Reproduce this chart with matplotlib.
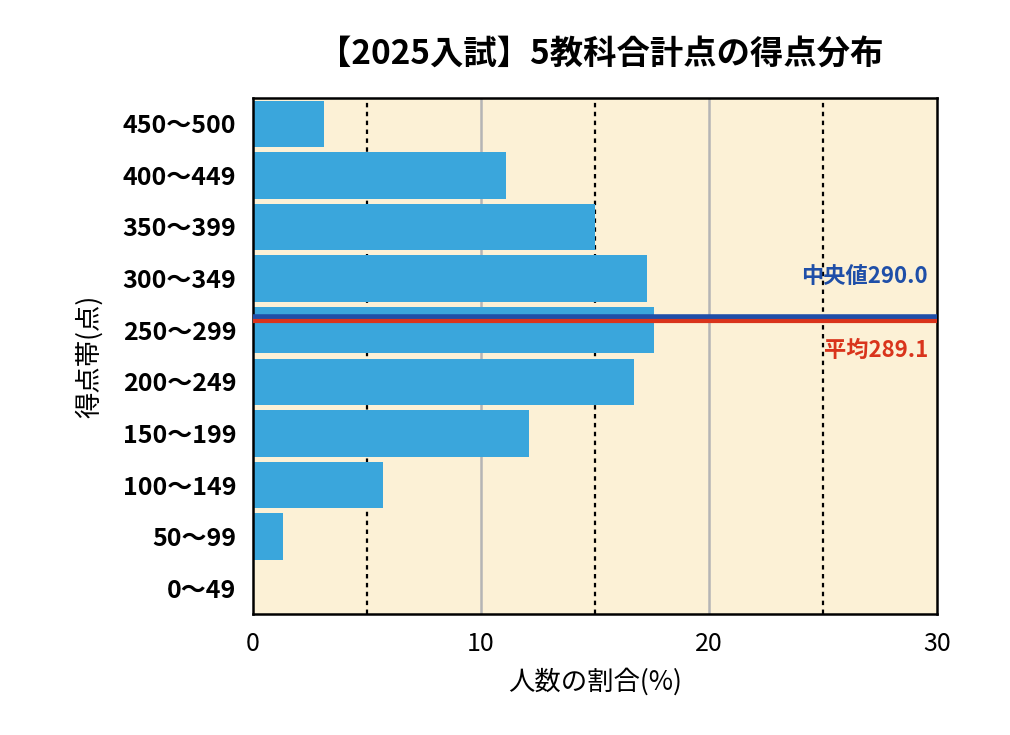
import matplotlib
matplotlib.use("Agg")
import matplotlib.pyplot as plt

plt.rcParams["font.family"] = "Noto Sans CJK JP"

categories = ["0〜49", "50〜99", "100〜149", "150〜199", "200〜249", "250〜299",
              "300〜349", "350〜399", "400〜449", "450〜500"]
values = [0, 1.3, 5.7, 12.1, 16.7, 17.6, 17.3, 15.0, 11.1, 3.1]
median = 290.0
mean = 289.1

def score_pos(v):
    return 4.5 + (v - 250) / 50

fig = plt.figure(figsize=(10.1, 7.35), dpi=100)
ax = fig.add_axes([0.2505, 0.1646, 0.6772, 0.7021])
ax.set_facecolor("#fcf1d6")
ax.barh(range(len(categories)), values, height=0.9, color="#3aa6dc", zorder=2)
for x in [10, 20]:
    ax.axvline(x, color="#b5b5b5", lw=1.8, zorder=1)
for x in [5, 15, 25]:
    ax.axvline(x, color="black", lw=1.6, ls=(0, (2, 2)), zorder=1)
ax.axhline(score_pos(median) - 0.04, color="#1f4fa8", lw=4, zorder=3)
ax.axhline(score_pos(mean) - 0.1, color="#d9341c", lw=3, zorder=4)
ax.text(29.6, 6.05, f"中央値{median:.1f}", color="#1f4fa8", fontsize=16, fontweight="bold",
        ha="right", va="center")
ax.text(29.6, 4.6, f"平均{mean:.1f}", color="#d9341c", fontsize=16, fontweight="bold",
        ha="right", va="center")
ax.set_xlim(0, 30)
ax.set_ylim(-0.5, 9.5)
ax.set_xticks([0, 10, 20, 30])
ax.set_xticklabels(["0", "10", "20", "30"], fontsize=18)
ax.set_yticks(range(len(categories)))
ax.set_yticklabels(categories, fontsize=18, fontweight="bold")
ax.tick_params(length=0, pad=12)
for s in ax.spines.values():
    s.set_linewidth(1.8)
ax.set_xlabel("人数の割合(%)", fontsize=19, labelpad=8)
ax.set_ylabel("得点帯(点)", fontsize=19, labelpad=14)
fig.text(0.595, 0.925, "【2025入試】5教科合計点の得点分布", fontsize=24, fontweight="bold",
         ha="center", va="center")
fig.savefig("out.png", dpi=100, facecolor="white")
